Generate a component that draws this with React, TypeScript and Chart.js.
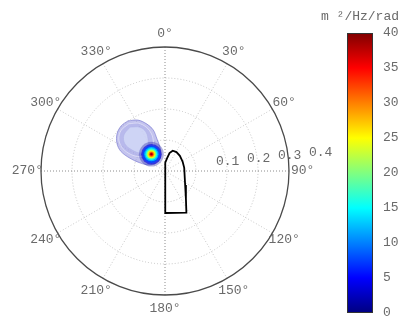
import React, { useEffect, useRef } from 'react';
import { Chart, registerables } from 'chart.js';

Chart.register(...registerables);

// ---------- data ----------
const angleTicks = [0, 30, 60, 90, 120, 150, 180, 210, 240, 270, 300, 330];
const angleLabels = ['0°', '30°', '60°', '90°', '120°', '150°', '180°', '210°', '240°', '270°', '300°', '330°'];
const ringValues = [0.1, 0.2, 0.3, 0.4];
const ringLabels = ['0.1', '0.2', '0.3', '0.4'];
const rMax = 0.4;

// ship outline (x = east, y = north), same units as the radial axis
const boatX = [0.003, 0.0, 0.0005, 0.002, 0.0065, 0.0145, 0.0248, 0.037, 0.048, 0.057, 0.062, 0.065, 0.0675, 0.069, 0.003];
const boatY = [-0.1355, -0.003, 0.012, 0.027, 0.0405, 0.058, 0.0655, 0.061, 0.049, 0.030, 0.010, -0.045, -0.090, -0.1345, -0.1355];

// low-level contours of the directional spectrum (direction deg, frequency Hz)
const haloOuterDir = [323.5, 332, 339, 344, 346, 348, 346, 322, 292, 288, 290, 294, 300, 308, 316];
const haloOuterFreq = [0.201, 0.186, 0.162, 0.138, 0.106, 0.079, 0.053, 0.037, 0.052, 0.085, 0.120, 0.156, 0.179, 0.196, 0.203];
const haloMidDir = [322.5, 331, 337, 340, 338, 330, 310, 298, 296, 299, 305, 313];
const haloMidFreq = [0.192, 0.176, 0.153, 0.128, 0.100, 0.082, 0.080, 0.100, 0.130, 0.160, 0.182, 0.193];
const haloInnerDir = [321.5, 330, 334, 330, 318, 306, 302.5, 304, 311];
const haloInnerFreq = [0.181, 0.163, 0.140, 0.108, 0.091, 0.099, 0.126, 0.156, 0.176];

// spectral peak: contour levels (m^2/Hz/rad) and their extent (Hz)
const peakDir = 321;
const peakFreq = 0.0697;
const peakLevels = [1, 4, 8, 12, 16, 20, 24, 28, 32, 36, 39];
const peakExtent = [0.040, 0.033, 0.028, 0.023, 0.019, 0.0155, 0.0125, 0.0095, 0.007, 0.0047, 0.0027];

// colour bar
const cbarMin = 0;
const cbarMax = 40;
const cbarStep = 5;
const cbarUnit = 'm ²/Hz/rad';

// ---------- helpers ----------
const clamp = (v: number) => Math.max(0, Math.min(1, v));
function jet(t: number, a = 1): string {
  const r = clamp(1.5 - Math.abs(4 * t - 3));
  const g = clamp(1.5 - Math.abs(4 * t - 2));
  const b = clamp(1.5 - Math.abs(4 * t - 1));
  return `rgba(${Math.round(r * 255)},${Math.round(g * 255)},${Math.round(b * 255)},${a})`;
}
const rad = (d: number) => (d * Math.PI) / 180;
function polarPts(dir: number[], freq: number[]) {
  const pts = dir.map((d, i) => ({ x: freq[i] * Math.sin(rad(d)), y: freq[i] * Math.cos(rad(d)) }));
  pts.push({ ...pts[0] });
  return pts;
}

const FONT = "'Liberation Mono', 'DejaVu Sans Mono', monospace";
const LABEL_COLOR = '#6a6a6a';

const polarGrid = {
  id: 'polarGrid',
  beforeDatasetsDraw(chart: any) {
    const { ctx, scales } = chart;
    const x = scales.x;
    const y = scales.y;
    const cx = x.getPixelForValue(0);
    const cy = y.getPixelForValue(0);
    const pr = (v: number) => x.getPixelForValue(v) - cx;
    const R = pr(rMax);
    ctx.save();
    ctx.lineWidth = 1;
    ctx.setLineDash([1, 2]);
    ctx.strokeStyle = '#c4c4c4';
    ringValues.slice(0, -1).forEach((r) => {
      ctx.beginPath();
      ctx.arc(cx, cy, pr(r), 0, Math.PI * 2);
      ctx.stroke();
    });
    angleTicks.forEach((a) => {
      ctx.strokeStyle = a % 90 === 0 ? '#8c8c8c' : '#c8c8c8';
      ctx.beginPath();
      ctx.moveTo(cx, cy);
      ctx.lineTo(cx + R * Math.sin(rad(a)), cy - R * Math.cos(rad(a)));
      ctx.stroke();
    });
    ctx.restore();
  },
  afterDatasetsDraw(chart: any) {
    const { ctx, scales } = chart;
    const x = scales.x;
    const y = scales.y;
    const cx = x.getPixelForValue(0);
    const cy = y.getPixelForValue(0);
    const pr = (v: number) => x.getPixelForValue(v) - cx;
    const R = pr(rMax);
    ctx.save();
    ctx.setLineDash([]);
    ctx.strokeStyle = '#4a4a4a';
    ctx.lineWidth = 1.3;
    ctx.beginPath();
    ctx.arc(cx, cy, R, 0, Math.PI * 2);
    ctx.stroke();

    ctx.fillStyle = LABEL_COLOR;
    ctx.font = `13px ${FONT}`;
    ctx.textAlign = 'center';
    ctx.textBaseline = 'middle';
    angleTicks.forEach((a, i) => {
      const rr = R * 1.11;
      ctx.fillText(angleLabels[i], cx + rr * Math.sin(rad(a)), cy - rr * Math.cos(rad(a)));
    });
    ctx.textAlign = 'left';
    ringValues.forEach((r, i) => {
      const lx = cx + pr(r) + 20;
      const ly = cy - 9 - 3.3 * i;
      ctx.fillText(ringLabels[i], lx, ly);
    });
    ctx.restore();
  },
};

const cbarDeco = {
  id: 'cbarDeco',
  afterDraw(chart: any) {
    const { ctx, chartArea } = chart;
    ctx.save();
    ctx.strokeStyle = '#333';
    ctx.lineWidth = 1;
    ctx.strokeRect(chartArea.left + 0.5, chartArea.top + 0.5, chartArea.right - chartArea.left - 1, chartArea.bottom - chartArea.top - 1);
    ctx.fillStyle = LABEL_COLOR;
    ctx.font = `13px ${FONT}`;
    ctx.textAlign = 'center';
    ctx.textBaseline = 'middle';
    ctx.fillText(cbarUnit, (chartArea.left + chartArea.right) / 2, 17);
    ctx.restore();
  },
};

export default function App() {
  const polarRef = useRef<HTMLCanvasElement>(null);
  const cbarRef = useRef<HTMLCanvasElement>(null);

  useEffect(() => {
    const pxPerUnit = (chart: any) => Math.abs(chart.scales.x.getPixelForValue(1) - chart.scales.x.getPixelForValue(0));
    const peakPts = peakLevels.map(() => ({
      x: peakFreq * Math.sin(rad(peakDir)),
      y: peakFreq * Math.cos(rad(peakDir)),
    }));
    const boatPts = boatX.map((v, i) => ({ x: v, y: boatY[i] }));
    const peakAlpha = (i: number) => (i === 0 ? 0.3 : i === 1 ? 0.6 : i === 2 ? 0.9 : 1);

    const polar = new Chart(polarRef.current!, {
      type: 'scatter',
      data: {
        datasets: [
          {
            label: 'ship',
            data: boatPts,
            showLine: true,
            borderColor: '#000',
            borderWidth: 1.8,
            pointRadius: 0,
            fill: false,
            tension: 0,
            order: 0,
          } as any,
          {
            label: 'peak',
            data: peakPts,
            pointRadius: (c: any) => peakExtent[c.dataIndex] * pxPerUnit(c.chart),
            pointBackgroundColor: peakLevels.map((l, i) => jet(l / cbarMax, peakAlpha(i))),
            pointBorderWidth: 0,
            pointHoverRadius: 0,
            order: 1,
          } as any,
          {
            label: 'inner',
            data: polarPts(haloInnerDir, haloInnerFreq),
            showLine: true,
            borderColor: 'rgba(175,178,232,0.7)',
            borderWidth: 0.8,
            backgroundColor: 'rgba(214,220,247,0.75)',
            fill: 'shape',
            tension: 0.35,
            pointRadius: 0,
            order: 2,
          } as any,
          {
            label: 'mid',
            data: polarPts(haloMidDir, haloMidFreq),
            showLine: true,
            borderColor: 'rgba(235,235,250,0.8)',
            borderWidth: 0.8,
            backgroundColor: 'rgba(170,172,232,0.45)',
            fill: 'shape',
            tension: 0.35,
            pointRadius: 0,
            order: 3,
          } as any,
          {
            label: 'outer',
            data: polarPts(haloOuterDir, haloOuterFreq),
            showLine: true,
            borderColor: 'rgba(110,110,205,0.75)',
            borderWidth: 0.8,
            backgroundColor: 'rgba(135,135,222,0.5)',
            fill: 'shape',
            tension: 0.35,
            pointRadius: 0,
            order: 4,
          } as any,
        ],
      },
      options: {
        responsive: false,
        animation: false,
        layout: { padding: { left: 41, right: 56, top: 47, bottom: 30 } },
        scales: {
          x: { display: false, min: -rMax, max: rMax },
          y: { display: false, min: -rMax, max: rMax },
        },
        plugins: { legend: { display: false }, tooltip: { enabled: false } },
      },
      plugins: [polarGrid],
    });

    const cbar = new Chart(cbarRef.current!, {
      type: 'bar',
      data: {
        labels: [''],
        datasets: [
          {
            data: [[cbarMin, cbarMax]] as any,
            backgroundColor: (c: any) => {
              const area = c.chart.chartArea;
              if (!area) return 'blue';
              const g = c.chart.ctx.createLinearGradient(0, area.bottom, 0, area.top);
              for (let i = 0; i <= 32; i++) g.addColorStop(i / 32, jet(i / 32));
              return g;
            },
            borderWidth: 0,
            barPercentage: 1,
            categoryPercentage: 1,
          },
        ],
      },
      options: {
        responsive: false,
        animation: false,
        layout: { padding: { left: 37, right: 0, top: 33, bottom: 12 } },
        scales: {
          x: { display: false },
          y: {
            position: 'right',
            min: cbarMin,
            max: cbarMax,
            grid: { display: false },
            border: { display: false },
            ticks: { stepSize: cbarStep, color: LABEL_COLOR, font: { family: FONT, size: 13 }, padding: 2 },
            afterFit: (s: any) => {
              s.width = 32;
            },
          },
        },
        plugins: { legend: { display: false }, tooltip: { enabled: false } },
      },
      plugins: [cbarDeco],
    });

    return () => {
      polar.destroy();
      cbar.destroy();
    };
  }, []);

  return (
    <div style={{ position: 'fixed', left: 0, top: 0, width: 405, height: 325, background: '#fff' }}>
      <canvas ref={polarRef} width={345} height={325} style={{ position: 'absolute', left: 0, top: 0 }} />
      <canvas ref={cbarRef} width={95} height={325} style={{ position: 'absolute', left: 310, top: 0 }} />
    </div>
  );
}
